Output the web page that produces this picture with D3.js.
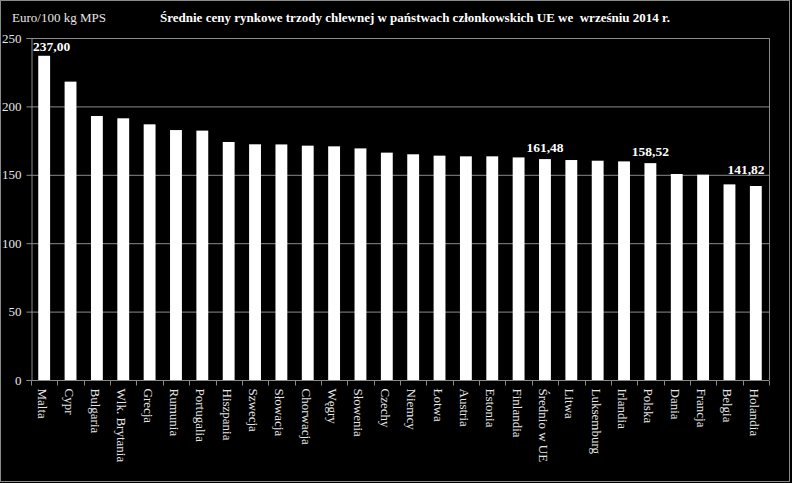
<!DOCTYPE html>
<html>
<head>
<meta charset="utf-8">
<script src="https://cdn.jsdelivr.net/npm/d3@7"></script>
<style>
  body { margin: 0; background: #000; }
  text { font-family: "Liberation Serif", "Times New Roman", serif; }
</style>
</head>
<body>
<div id="chart"></div>
<script>
// data
const countries = ["Malta", "Cypr", "Bulgaria", "Wlk. Brytania", "Grecja", "Rumunia", "Portugalia",
  "Hiszpania", "Szwecja", "Słowacja", "Chorwacja", "Węgry", "Słowenia", "Czechy", "Niemcy",
  "Łotwa", "Austria", "Estonia", "Finlandia", "Średnio w UE", "Litwa", "Luksemburg", "Irlandia",
  "Polska", "Dania", "Francja", "Belgia", "Holandia"];
const prices = [237.00, 218.1, 193.0, 191.3, 186.9, 182.7, 182.3, 174.0, 172.3, 172.2, 171.3,
  170.8, 169.3, 166.2, 165.0, 164.0, 163.5, 163.5, 162.7, 161.48, 160.8, 160.3, 159.8,
  158.52, 150.6, 150.1, 143.0, 141.82];
const labelled = ["Malta", "Średnio w UE", "Polska", "Holandia"];
const yTicks = [0, 50, 100, 150, 200, 250];

const W = 792, H = 483;
const margin = {top: 38, right: 23, bottom: 103, left: 31},
width = W - margin.left - margin.right,
height = H - margin.top - margin.bottom;

const root = d3.select("#chart")
.append("svg")
.attr("width", W)
.attr("height", H);

root.append("rect")
.attr("width", W).attr("height", H).attr("fill", "#000");

// outer frame
root.append("rect")
.attr("x", 0.5).attr("y", 0.5)
.attr("width", 789).attr("height", 481)
.attr("fill", "none").attr("stroke", "#8a8a8a");

root.append("text")
.attr("x", 12).attr("y", 22)
.attr("fill", "#e6e6e6")
.style("font-size", "13px")
.text("Euro/100 kg MPS");

root.append("text")
.attr("x", 160).attr("y", 22)
.attr("fill", "#fff")
.style("font-size", "13px")
.style("font-weight", "bold")
.style("white-space", "pre")
.text("Średnie ceny rynkowe trzody chlewnej w państwach członkowskich UE we  wrześniu 2014 r.");

const svg = root.append("g")
.attr("transform", `translate(${margin.left},${margin.top})`);

const x = d3.scaleBand()
.range([0, width])
.domain(countries)
.paddingInner(0.55)
.paddingOuter(0.275);

const y = d3.scaleLinear()
.domain([0, 250])
.range([height, 0]);

// gridlines
svg.append("g")
.selectAll("line")
.data(yTicks.filter(d => d > 0))
.join("line")
.attr("x1", 0).attr("x2", width)
.attr("y1", d => y(d) + 0.5).attr("y2", d => y(d) + 0.5)
.attr("stroke", "#8a8a8a");

// right border of plot
svg.append("line")
.attr("x1", width + 0.5).attr("x2", width + 0.5)
.attr("y1", 0).attr("y2", height)
.attr("stroke", "#8a8a8a");

// Y axis
const yAxis = svg.append("g")
.attr("transform", "translate(0.5,0)")
.call(d3.axisLeft(y).tickValues(yTicks).tickSize(5).tickPadding(5));
yAxis.selectAll("path, line").attr("stroke", "#8a8a8a");
yAxis.selectAll("text")
.attr("fill", "#e6e6e6")
.style("font-size", "13px")
.style("font-family", "Liberation Serif, serif");

// X axis with ticks between categories
const xAxis = svg.append("g")
.attr("transform", `translate(0,${height + 0.5})`);
xAxis.append("line")
.attr("x1", 0).attr("x2", width)
.attr("stroke", "#8a8a8a");
xAxis.selectAll("line.tick")
.data(countries.concat(["end"]))
.join("line")
.attr("class", "tick")
.attr("x1", (d, i) => Math.round(x.step() * i) + 0.5)
.attr("x2", (d, i) => Math.round(x.step() * i) + 0.5)
.attr("y1", 0).attr("y2", 5)
.attr("stroke", "#8a8a8a");
xAxis.selectAll("text")
.data(countries)
.join("text")
.attr("transform", d => `translate(${x(d) + x.bandwidth() / 2 - 6},8) rotate(90)`)
.attr("fill", "#e6e6e6")
.style("font-size", "13px")
.text(d => d);

// Bars
svg.selectAll("rect.bar")
.data(countries)
.join("rect")
.attr("class", "bar")
.attr("x", d => x(d))
.attr("y", (d, i) => y(prices[i]))
.attr("width", x.bandwidth())
.attr("height", (d, i) => height - y(prices[i]))
.attr("fill", "#fff");

// value labels
const fmt = v => v.toFixed(2).replace(".", ",");
svg.selectAll("text.val")
.data(labelled)
.join("text")
.attr("class", "val")
.attr("x", d => {
  if (d === "Malta") return 2;
  const cx = x(d) + x.bandwidth() / 2;
  return Math.min(cx, width - 23);
})
.attr("y", d => {
  const v = prices[countries.indexOf(d)];
  if (d === "Malta") return 13;
  if (d === "Holandia") return y(v) - 12;
  return y(v) - 7;
})
.attr("text-anchor", d => d === "Malta" ? "start" : "middle")
.attr("fill", "#fff")
.style("font-size", "13.5px")
.style("font-weight", "bold")
.text(d => fmt(prices[countries.indexOf(d)]));
</script>
</body>
</html>
